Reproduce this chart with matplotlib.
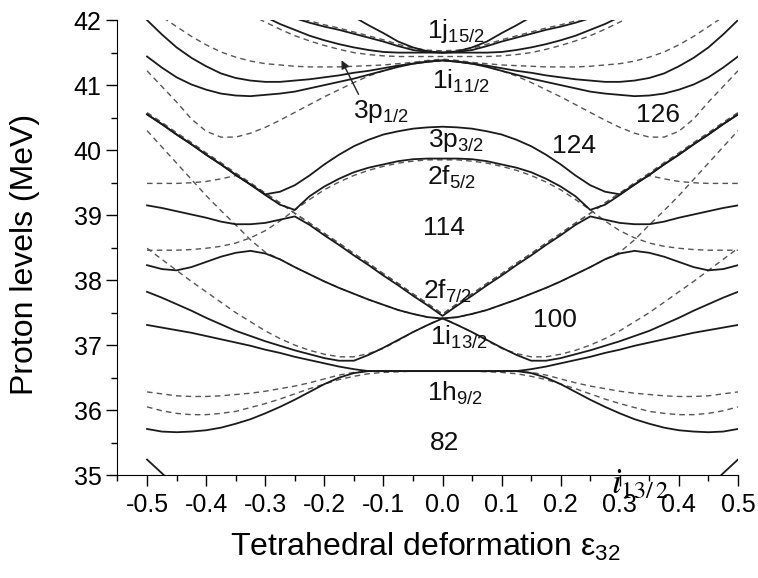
import numpy as np
import matplotlib
matplotlib.use("Agg")
import matplotlib.pyplot as plt
from matplotlib.ticker import MultipleLocator
from matplotlib.transforms import offset_copy

plt.rcParams['font.family'] = ['Liberation Sans', 'DejaVu Sans']
plt.rcParams['mathtext.default'] = 'regular'
plt.rcParams['axes.unicode_minus'] = False

# deformation grid (right half); the levels are symmetric in eps -> -eps
EPS = [0.0, 0.025, 0.05, 0.075, 0.10, 0.125, 0.15, 0.175, 0.20, 0.225, 0.25,
       0.275, 0.30, 0.325, 0.35, 0.375, 0.40, 0.425, 0.45, 0.475, 0.50]

# solid levels (MeV), read at EPS
t1 = [41.50, 41.52, 41.58, 41.67, 41.80, 41.92, 42.05]
t2 = [41.50, 41.51, 41.54, 41.60, 41.67, 41.73, 41.79, 41.85, 41.90, 41.96, 42.03]
t3 = [41.50, 41.50, 41.50, 41.50, 41.51, 41.54, 41.58, 41.63, 41.69, 41.76, 41.85,
      41.94, 42.05]
t6 = [41.38, 41.36, 41.33, 41.30, 41.26, 41.22, 41.19, 41.15, 41.12, 41.09, 41.07,
      41.05, 41.05, 41.07, 41.11, 41.18, 41.29, 41.42, 41.58, 41.78, 42.00]
t7 = [41.38, 41.36, 41.33, 41.28, 41.22, 41.16, 41.10, 41.05, 41.00, 40.95, 40.90,
      40.87, 40.85, 40.83, 40.84, 40.87, 40.93, 41.01, 41.12, 41.27, 41.44]
p32 = [40.36, 40.35, 40.33, 40.29, 40.24, 40.16, 40.06, 39.93, 39.78, 39.61, 39.46,
       39.36, 39.32, 39.47, 39.62, 39.78, 39.93, 40.09, 40.24, 40.40, 40.55]
f52 = [39.87, 39.87, 39.86, 39.83, 39.78, 39.73, 39.66, 39.56, 39.44, 39.29, 39.08,
       39.16, 39.31, 39.47, 39.62, 39.78, 39.93, 40.09, 40.24, 40.40, 40.55]
f72_low = [37.45, 37.61, 37.76, 37.92, 38.07, 38.23, 38.38, 38.54, 38.69, 38.85,
           38.98, 38.93, 38.88, 38.86, 38.86, 38.90, 38.96, 39.01, 39.06, 39.11, 39.15]
mid = [37.41, 37.43, 37.48, 37.54, 37.62, 37.70, 37.79, 37.88, 37.98, 38.09, 38.20,
       38.32, 38.41, 38.45, 38.42, 38.36, 38.28, 38.20, 38.15, 38.17, 38.23]
i13_up = [37.41, 37.31, 37.20, 37.08, 36.96, 36.85, 36.76, 36.76, 36.80, 36.86,
          36.92, 36.99, 37.06, 37.14, 37.22, 37.32, 37.42, 37.53, 37.63, 37.73, 37.82]
h92_up = [36.60, 36.60, 36.60, 36.60, 36.60, 36.60, 36.63, 36.67, 36.72, 36.77,
          36.82, 36.88, 36.93, 36.99, 37.04, 37.09, 37.14, 37.19, 37.23, 37.27, 37.31]
h92_down = [36.60, 36.60, 36.60, 36.60, 36.60, 36.60, 36.57, 36.50, 36.40, 36.28,
            36.16, 36.05, 35.95, 35.86, 35.79, 35.73, 35.69, 35.67, 35.66, 35.67, 35.71]
corner = [np.nan] * 18 + [34.81, 35.03, 35.24]

# dashed levels
t4 = [41.44, 41.44, 41.44, 41.44, 41.45, 41.47, 41.50, 41.55, 41.61, 41.68, 41.76,
      41.86, 41.97, 42.08]
t5 = [41.40, 41.38, 41.35, 41.33, 41.31, 41.30, 41.29, 41.28, 41.28, 41.28, 41.29,
      41.31, 41.33, 41.37, 41.43, 41.51, 41.62, 41.75, 41.90, 42.05, 42.20]
t8 = [41.38, 41.37, 41.34, 41.29, 41.22, 41.14, 41.04, 40.93, 40.82, 40.70, 40.58,
      40.46, 40.35, 40.26, 40.20, 40.20, 40.29, 40.48, 40.74, 40.98, 41.22]
d_f52 = [39.85, 39.85, 39.83, 39.80, 39.75, 39.69, 39.61, 39.51, 39.39, 39.24, 39.08,
         38.91, 38.76, 38.65, 38.57, 38.52, 38.49, 38.47, 38.46, 38.46, 38.46]
d_line = [37.45, 37.61, 37.76, 37.92, 38.07, 38.23, 38.38, 38.54, 38.69, 38.85, 39.00,
          39.16, 39.31, 39.47, 39.62, 39.78, 39.93, 40.09, 40.24, 40.40, 40.55]
d_395 = [37.45, 37.61, 37.76, 37.92, 38.07, 38.23, 38.38, 38.54, 38.69, 38.85, 39.00,
         39.16, 39.31, 39.46, 39.58, 39.53, 39.49, 39.47, 39.46, 39.46, 39.46]
d_mid = [37.41, 37.43, 37.48, 37.54, 37.62, 37.70, 37.79, 37.88, 37.98, 38.09, 38.20,
         38.32, 38.43, 38.62, 38.85, 39.07, 39.30, 39.55, 39.80, 40.05, 40.30]
d_i13 = [37.42, 37.31, 37.20, 37.07, 36.95, 36.87, 36.82, 36.82, 36.86, 36.92, 37.00,
         37.10, 37.22, 37.36, 37.50, 37.66, 37.82, 37.98, 38.15, 38.32, 38.49]
d_h1 = [36.60, 36.60, 36.60, 36.60, 36.60, 36.60, 36.58, 36.54, 36.48, 36.42, 36.37,
        36.33, 36.29, 36.26, 36.24, 36.22, 36.21, 36.21, 36.22, 36.25, 36.28]
d_h2 = [36.60, 36.60, 36.60, 36.59, 36.58, 36.56, 36.52, 36.47, 36.40, 36.33, 36.25,
        36.17, 36.10, 36.04, 35.98, 35.95, 35.93, 35.93, 35.95, 35.99, 36.05]

solid_levels = [t1, t2, t3, t6, t7, p32, f52, f72_low, mid, i13_up,
                h92_up, h92_down, corner]
dashed_levels = [t4, t5, t8, d_f52, d_mid, d_i13, d_h1, d_h2]
overlay_levels = [t2, d_line, d_395]  # dashed drawn along solid lines

# level labels: (main, subscript, eps, energy)
level_labels = [("1j", "15/2", -0.026, 41.72), ("1i", "11/2", -0.018, 40.95),
                ("3p", "1/2", -0.151, 40.49), ("3p", "3/2", -0.025, 40.05),
                ("2f", "5/2", -0.026, 39.46), ("2f", "7/2", -0.033, 37.72),
                ("1i", "13/2", -0.021, 37.00), ("1h", "9/2", -0.026, 36.15)]
gap_labels = [("126", 0.365, 40.54), ("124", 0.222, 40.06), ("114", 0.003, 38.80),
              ("100", 0.191, 37.38), ("82", 0.003, 35.49)]


def mirror(y):
    y = np.array(y, dtype=float)
    x = np.array(EPS[:len(y)])
    return (np.concatenate([-x[::-1], x[1:]]),
            np.concatenate([y[::-1], y[1:]]))


fig = plt.figure(figsize=(7.58, 5.78), dpi=100)
ax = fig.add_axes([0.155, 0.178, 0.8186, 0.7872])

dash_kw = dict(color='#555555', lw=1.0, dashes=(4, 3))
for lev in dashed_levels:
    ax.plot(*mirror(lev), **dash_kw)
shifted = offset_copy(ax.transData, fig=fig, x=0, y=1.3, units='points')
for lev in overlay_levels:
    ax.plot(*mirror(lev), transform=shifted, **dash_kw)
for lev in solid_levels:
    ax.plot(*mirror(lev), color='#1a1a1a', lw=1.3)

for main, sub, x, y in level_labels:
    ax.text(x, y, main + "$_{" + sub + "}$", fontsize=19, ha='left',
            va='baseline', color='#111111')
for txt, x, y in gap_labels:
    ax.text(x, y, txt, fontsize=19, ha='center', va='center', color='#111111')

ax.annotate('', xy=(-0.173, 41.42), xytext=(-0.14, 40.82),
            arrowprops=dict(arrowstyle='-|>', color='#222222', lw=1.0,
                            mutation_scale=12))
ax.text(0.285, 34.86, r'$\mathbf{\mathit{i}}_{\mathrm{13/\,2}}$', fontsize=25,
        math_fontfamily='stix', ha='left', va='center', clip_on=False)

ax.set_xlim(-0.55, 0.5)
ax.set_ylim(35, 42)
ax.spines['top'].set_visible(False)
ax.spines['right'].set_visible(False)
ax.xaxis.set_major_locator(MultipleLocator(0.1))
ax.xaxis.set_minor_locator(MultipleLocator(0.05))
ax.yaxis.set_major_locator(MultipleLocator(1))
ax.yaxis.set_minor_locator(MultipleLocator(0.5))
ax.xaxis.set_major_formatter(plt.FuncFormatter(lambda v, p: f"{v:.1f}"))
ax.tick_params(which='major', direction='out', length=8, width=1, labelsize=18)
ax.tick_params(which='minor', direction='out', length=4.5, width=1)
ax.tick_params(axis='x', pad=5)

ax.set_ylabel('Proton levels (MeV)', fontsize=23)
ax.yaxis.set_label_coords(-0.125, 0.485)
ax.set_xlabel('Tetrahedral deformation ε$_{32}$', fontsize=23)
ax.xaxis.set_label_coords(0.496, -0.122)

fig.savefig('out.png', dpi=100)
